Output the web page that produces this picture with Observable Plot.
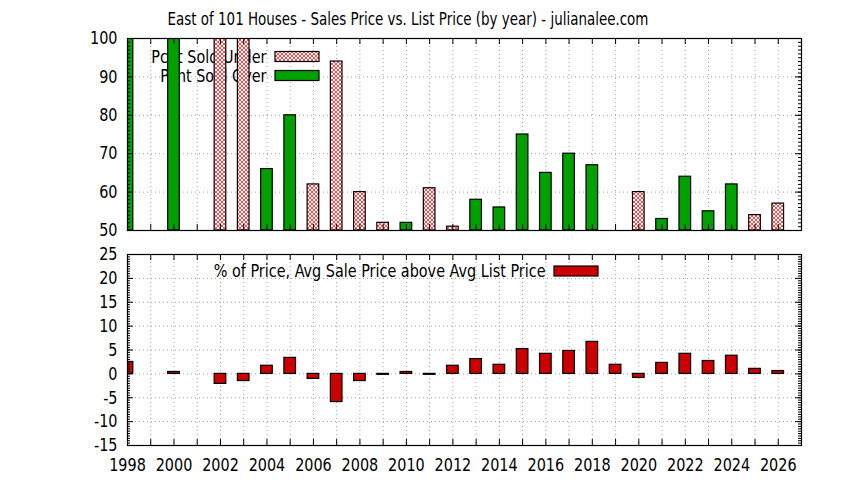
<!DOCTYPE html>
<html><head><meta charset="utf-8">
<script src="https://cdn.jsdelivr.net/npm/d3@7"></script>
<script src="https://cdn.jsdelivr.net/npm/@observablehq/plot@0.6"></script>
<style>
body{margin:0;background:#fff;}
#wrap{position:relative;width:844px;height:480px;font-family:"DejaVu Sans Condensed","DejaVu Sans",sans-serif;color:#000;}
#title{position:absolute;left:0;top:8px;width:816px;text-align:center;font-size:18px;white-space:nowrap;transform:scaleX(0.83);transform-origin:408px 0;}
#top,#bot{position:absolute;left:0;}
#top{top:0}#bot{top:240px}
</style></head><body>
<div id="wrap">
<div id="top"></div><div id="bot"></div>
<div id="title">East of 101 Houses - Sales Price vs. List Price (by year) - julianalee.com</div>
</div>
<script>
const FONT = '"DejaVu Sans Condensed","DejaVu Sans",sans-serif';
const years = [1998,1999,2000,2001,2002,2003,2004,2005,2006,2007,2008,2009,2010,2011,2012,2013,2014,2015,2016,2017,2018,2019,2020,2021,2022,2023,2024,2025,2026];
const pcntSoldUnder = [null,null,null,null,100,100,null,null,62,94,60,52,null,61,51,null,null,null,null,null,null,null,60,null,null,null,null,54,57];
const pcntSoldOver = [100,null,100,null,null,null,66,80,null,null,null,null,52,null,null,58,56,75,65,70,67,null,null,53,64,55,62,null,null];
const pctAboveList = [2.5,null,0.4,null,-2.1,-1.5,1.7,3.35,-1.05,-5.9,-1.5,-0.2,0.4,-0.2,1.7,3.1,1.9,5.2,4.2,4.8,6.7,1.9,-0.85,2.3,4.2,2.7,3.8,1.05,0.6];
const xLabelTicks = [1998,2000,2002,2004,2006,2008,2010,2012,2014,2016,2018,2020,2022,2024,2026];
const topYTicks = [50,60,70,80,90,100];
const botYTicks = [-15,-10,-5,0,5,10,15,20,25];
const legendUnder = "Pcnt Sold Under";
const legendOver = "Pcnt Sold Over";
const legendPct = "% of Price, Avg Sale Price above Avg List Price";

const rows = years.map((y,i)=>({year:y, under:pcntSoldUnder[i], over:pcntSoldOver[i], pct:pctAboveList[i]}));
const W = 844, ML = 127, MR = 43, PW = W-ML-MR;
const gridStyle = {stroke:"#a0a0a0", strokeOpacity:1, strokeWidth:1, strokeDasharray:"1,3"};
const topMinor = d3.range(50,100.001,1);
const botMinor = d3.range(-15,25.001,0.5);
const SX = 0.89;

function tickMarks(major, minor, ph){
  return [
    Plot.tickY(major, {y:d=>d, insetRight:PW-6, stroke:"black"}),
    Plot.tickY(major, {y:d=>d, insetLeft:PW-6, stroke:"black"}),
    Plot.tickY(minor, {y:d=>d, insetRight:PW-3, stroke:"black"}),
    Plot.tickY(minor, {y:d=>d, insetLeft:PW-3, stroke:"black"}),
    Plot.tickX(years, {x:d=>d, insetTop:ph-6, stroke:"black"}),
    Plot.tickX(years, {x:d=>d, insetBottom:ph-6, stroke:"black"})
  ];
}
function condense(svg){
  d3.select(svg).selectAll("text").each(function(){
    const t = this;
    let tr = t.getAttribute("transform");
    if (tr == null) {
      const x = t.getAttribute("x") || 0, y = t.getAttribute("y") || 0;
      t.removeAttribute("x"); t.removeAttribute("y");
      tr = `translate(${x},${y})`;
    }
    t.setAttribute("transform", tr + ` scale(${SX},1)`);
  });
}

const topH = 240, topMT = 38, topMB = 10, topPH = topH-topMT-topMB;
const topPlot = Plot.plot({
  width:W, height:topH, marginLeft:ML, marginRight:MR, marginTop:topMT, marginBottom:topMB,
  style:{fontFamily:FONT, fontSize:"18px", background:"transparent", color:"black", overflow:"visible"},
  x:{domain:[1998,2027], axis:null},
  y:{domain:[50,100], axis:null},
  marks:[
    Plot.gridX(years, {x:d=>d, ...gridStyle}),
    Plot.gridY(topYTicks, {y:d=>d, ...gridStyle}),
    Plot.text([legendUnder], {text:d=>d, frameAnchor:"top-left", lineAnchor:"middle", dx:139, dy:18.5, textAnchor:"end", fontSize:18, fill:"black"}),
    Plot.text([legendOver], {text:d=>d, frameAnchor:"top-left", lineAnchor:"middle", dx:139, dy:37.5, textAnchor:"end", fontSize:18, fill:"black"}),
    Plot.rect(rows.filter(d=>d.under!=null), {x1:d=>d.year-0.25, x2:d=>d.year+0.25, y1:50, y2:"under", fill:"url(#hatchRed)", stroke:"black", strokeWidth:1.2, clip:true}),
    Plot.rect(rows.filter(d=>d.over!=null), {x1:d=>d.year-0.25, x2:d=>d.year+0.25, y1:50, y2:"over", fill:"#00a000", stroke:"black", strokeWidth:1.2, clip:true}),
    ...tickMarks(topYTicks, topMinor, topPH),
    Plot.frame({stroke:"black", strokeWidth:1.2}),
    Plot.axisY(topYTicks, {tickSize:0, tickPadding:10, fontSize:18, tickFormat:d=>String(d), label:null})
  ]
});
condense(topPlot);
document.getElementById("top").appendChild(topPlot);
const ts = d3.select(topPlot);
const pat = ts.insert("defs", ":first-child").append("pattern")
  .attr("id","hatchRed").attr("patternUnits","userSpaceOnUse").attr("width",4).attr("height",4);
pat.append("rect").attr("width",4).attr("height",4).attr("fill","#fff");
pat.append("path").attr("d","M0,0L4,4M4,0L0,4M-1,3L1,5M3,-1L5,1M-1,1L1,-1M3,5L5,3").attr("stroke","#ff1010").attr("stroke-width",0.75);
ts.append("rect").attr("x",275).attr("y",51.5).attr("width",44).attr("height",10).attr("fill","url(#hatchRed)").attr("stroke","black").attr("stroke-width",1.2);
ts.append("rect").attr("x",275).attr("y",70.5).attr("width",44).attr("height",10).attr("fill","#00a000").attr("stroke","black").attr("stroke-width",1.2);

const botH = 240, botMT = 14, botMB = 35, botPH = botH-botMT-botMB;
const botPlot = Plot.plot({
  width:W, height:botH, marginLeft:ML, marginRight:MR, marginTop:botMT, marginBottom:botMB,
  style:{fontFamily:FONT, fontSize:"18px", background:"transparent", color:"black", overflow:"visible"},
  x:{domain:[1998,2027]},
  y:{domain:[-15,25]},
  marks:[
    Plot.gridX(years, {x:d=>d, ...gridStyle}),
    Plot.gridY(botYTicks, {y:d=>d, ...gridStyle}),
    Plot.text([legendPct], {text:d=>d, frameAnchor:"top-left", lineAnchor:"middle", dx:418, dy:16.5, textAnchor:"end", fontSize:18, fill:"black"}),
    Plot.rect(rows.filter(d=>d.pct!=null), {x1:d=>d.year-0.25, x2:d=>d.year+0.25, y1:0, y2:"pct", fill:"#cc0000", stroke:"black", strokeWidth:1.2, clip:true}),
    ...tickMarks(botYTicks, botMinor, botPH),
    Plot.frame({stroke:"black", strokeWidth:1.2}),
    Plot.axisY(botYTicks, {tickSize:0, tickPadding:10, fontSize:18, tickFormat:d=>String(d), label:null}),
    Plot.axisX(xLabelTicks, {tickSize:0, tickPadding:13, fontSize:18, tickFormat:d=>String(d), label:null})
  ]
});
condense(botPlot);
document.getElementById("bot").appendChild(botPlot);
d3.select(botPlot).append("rect").attr("x",554).attr("y",26).attr("width",44).attr("height",10).attr("fill","#cc0000").attr("stroke","black").attr("stroke-width",1.2);
</script>
</body></html>
